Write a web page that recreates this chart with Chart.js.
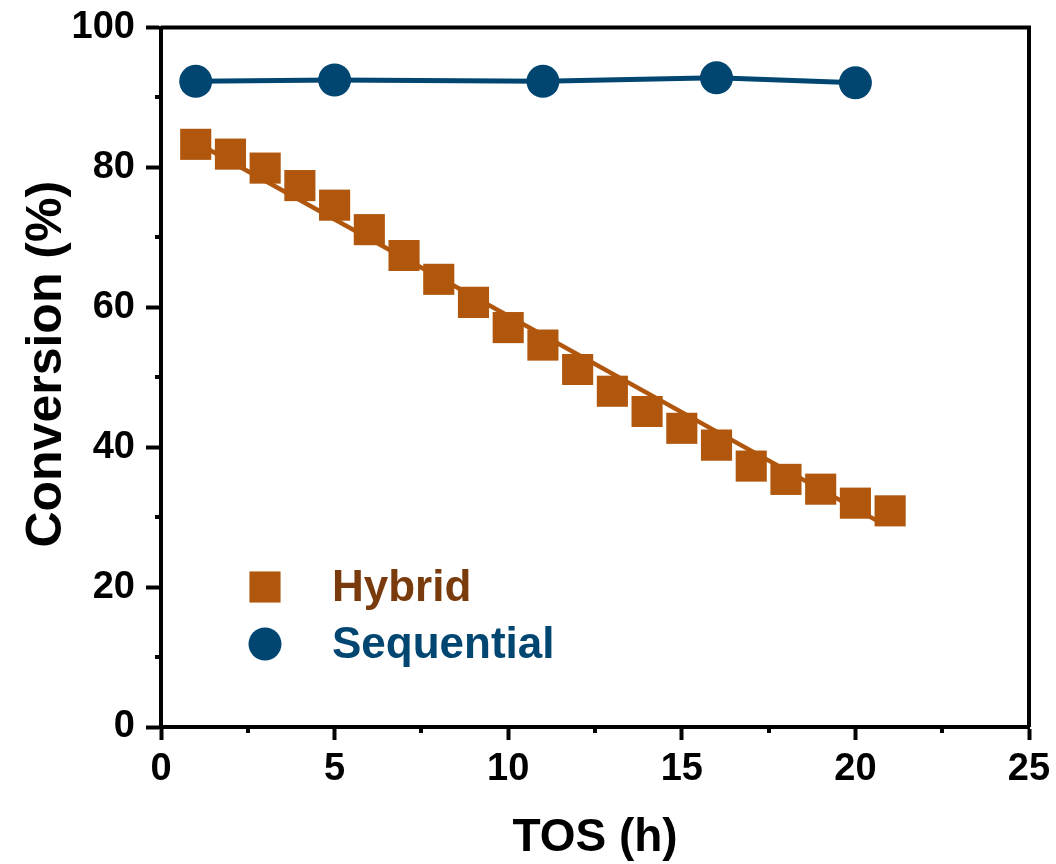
<!DOCTYPE html>
<html>
<head>
<meta charset="utf-8">
<script src="https://cdn.jsdelivr.net/npm/chart.js@4.4.1/dist/chart.umd.min.js"></script>
<style>
    html, body { margin: 0; padding: 0; background: #ffffff; }
    #wrap { width: 1056px; height: 864px; }
</style>
</head>
<body>
<div id="wrap"><canvas id="conversionChart" width="1056" height="864"></canvas></div>
<script>
// time on stream (h) and conversion (%)
const hybridTime = [1, 2, 3, 4, 5, 6, 7, 8, 9, 10, 11, 12, 13, 14, 15, 16, 17, 18, 19, 20, 21];
const hybridConversion = [83.3, 81.9, 79.9, 77.4, 74.6, 71.1, 67.4, 64.0, 60.7, 57.1, 54.6,
    51.1, 48.0, 45.1, 42.7, 40.3, 37.3, 35.4, 34.0, 32.0, 30.9];
const sequentialTime = [1, 5, 11, 16, 20];
const sequentialConversion = [92.3, 92.5, 92.3, 92.8, 92.1];

// straight trend line through the hybrid points
const hybridFitTime = [1, 20.8];
const hybridFitConversion = [83.6, 29.0];

const xTicks = [0, 5, 10, 15, 20, 25];
const yTicks = [0, 20, 40, 60, 80, 100];

const hybridColor = '#B0570D';
const hybridTextColor = '#7A3B0C';
const sequentialColor = '#004671';
const fontFamily = '"Liberation Sans", Arial, sans-serif';

const toPoints = (xs, ys) => xs.map((x, i) => ({ x: x, y: ys[i] }));

// box around the plot area, short minor ticks, and the rotated y title
const frameAndMinorTicks = {
    id: 'frameAndMinorTicks',
    afterDraw(chart) {
        const { ctx, chartArea, scales } = chart;
        ctx.save();
        ctx.strokeStyle = '#000';
        ctx.lineWidth = 4;
        ctx.beginPath();
        ctx.moveTo(chartArea.left, chartArea.top);
        ctx.lineTo(chartArea.right, chartArea.top);
        ctx.lineTo(chartArea.right, chartArea.bottom);
        ctx.stroke();

        const minor = 6;
        const xs = scales.x.ticks.map(t => t.value);
        for (let i = 0; i < xs.length - 1; i++) {
            const px = Math.round(scales.x.getPixelForValue((xs[i] + xs[i + 1]) / 2));
            ctx.beginPath();
            ctx.moveTo(px, chartArea.bottom);
            ctx.lineTo(px, chartArea.bottom + minor);
            ctx.stroke();
        }
        const ys = scales.y.ticks.map(t => t.value);
        for (let i = 0; i < ys.length - 1; i++) {
            const py = Math.round(scales.y.getPixelForValue((ys[i] + ys[i + 1]) / 2));
            ctx.beginPath();
            ctx.moveTo(chartArea.left, py);
            ctx.lineTo(chartArea.left - minor, py);
            ctx.stroke();
        }

        ctx.translate(47, (chartArea.top + chartArea.bottom) / 2 - 13);
        ctx.rotate(-Math.PI / 2);
        ctx.font = 'bold 50px ' + fontFamily;
        ctx.fillStyle = '#000';
        ctx.textAlign = 'center';
        ctx.textBaseline = 'middle';
        ctx.fillText('Conversion (%)', 0, 0);
        ctx.restore();
    }
};

// legend sitting inside the lower left of the plot
const insideLegend = {
    id: 'insideLegend',
    afterDatasetsDraw(chart) {
        const { ctx, chartArea } = chart;
        const items = [
            { label: 'Hybrid', ds: chart.data.datasets[1], text: hybridTextColor, dy: -140 },
            { label: 'Sequential', ds: chart.data.datasets[2], text: sequentialColor, dy: -83 }
        ];
        ctx.save();
        ctx.font = 'bold 44px ' + fontFamily;
        ctx.textBaseline = 'middle';
        ctx.textAlign = 'left';
        items.forEach(item => {
            const cx = chartArea.left + 104;
            const cy = chartArea.bottom + item.dy;
            ctx.fillStyle = item.ds.backgroundColor;
            Chart.helpers.drawPoint(ctx, {
                pointStyle: item.ds.pointStyle,
                radius: item.ds.pointRadius,
                borderWidth: 0,
                rotation: 0
            }, cx, cy);
            ctx.fillStyle = item.text;
            ctx.fillText(item.label, chartArea.left + 171, cy + 2);
        });
        ctx.restore();
    }
};

new Chart(document.getElementById('conversionChart'), {
    type: 'scatter',
    data: {
        datasets: [
            {
                label: 'Hybrid fit',
                data: toPoints(hybridFitTime, hybridFitConversion),
                showLine: true,
                borderColor: hybridColor,
                borderWidth: 4.5,
                pointRadius: 0,
                order: 3
            },
            {
                label: 'Hybrid',
                data: toPoints(hybridTime, hybridConversion),
                showLine: false,
                pointStyle: 'rect',
                pointRadius: 22,
                pointBorderWidth: 0,
                backgroundColor: hybridColor,
                borderColor: hybridColor,
                order: 2
            },
            {
                label: 'Sequential',
                data: toPoints(sequentialTime, sequentialConversion),
                showLine: true,
                borderColor: sequentialColor,
                borderWidth: 5,
                pointStyle: 'circle',
                pointRadius: 16.5,
                pointBorderWidth: 0,
                backgroundColor: sequentialColor,
                order: 1
            }
        ]
    },
    options: {
        responsive: false,
        animation: false,
        clip: false,
        layout: { padding: { left: 0, top: 27.5, right: 27, bottom: 0 } },
        plugins: {
            legend: { display: false },
            tooltip: { enabled: false }
        },
        scales: {
            x: {
                type: 'linear',
                min: 0,
                max: 25,
                afterBuildTicks: scale => { scale.ticks = xTicks.map(v => ({ value: v })); },
                afterFit: scale => {
                    scale.height = 137;
                    scale.paddingLeft = 0;
                    scale.paddingRight = 0;
                },
                border: { display: true, color: '#000', width: 4 },
                grid: { drawOnChartArea: false, drawTicks: true, tickLength: 13, tickWidth: 4, tickColor: '#000' },
                ticks: {
                    color: '#000',
                    padding: 7,
                    font: { family: fontFamily, size: 38, weight: 'bold' }
                },
                title: {
                    display: true,
                    text: 'TOS (h)',
                    color: '#000',
                    padding: { top: 0, bottom: 0 },
                    font: { family: fontFamily, size: 46, weight: 'bold', lineHeight: 1.1 }
                }
            },
            y: {
                type: 'linear',
                min: 0,
                max: 100,
                afterBuildTicks: scale => { scale.ticks = yTicks.map(v => ({ value: v })); },
                afterFit: scale => {
                    scale.width = 161;
                    scale.paddingTop = 0;
                    scale.paddingBottom = 0;
                },
                border: { display: true, color: '#000', width: 4 },
                grid: { drawOnChartArea: false, drawTicks: true, tickLength: 15, tickWidth: 4, tickColor: '#000' },
                ticks: {
                    color: '#000',
                    padding: 11,
                    font: { family: fontFamily, size: 38, weight: 'bold' }
                }
            }
        }
    },
    plugins: [frameAndMinorTicks, insideLegend]
});
</script>
</body>
</html>
